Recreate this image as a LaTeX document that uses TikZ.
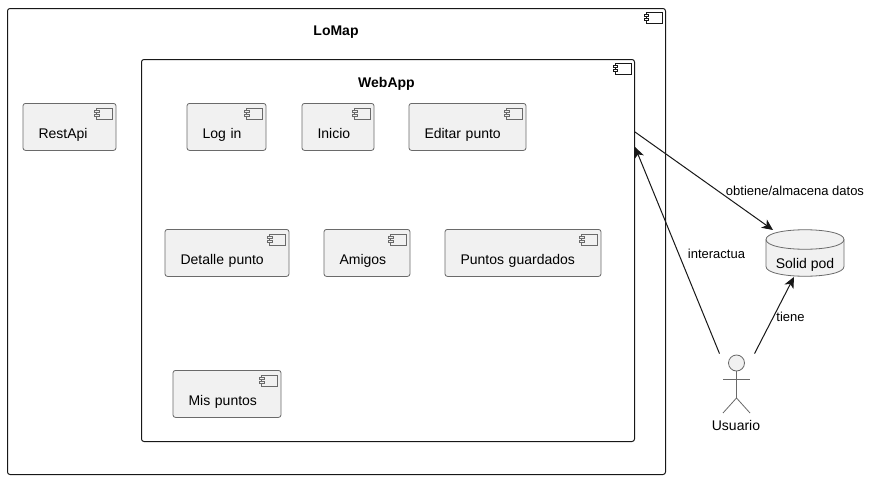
\documentclass[tikz,border=0pt]{standalone}
\usepackage{fontspec}
\setmainfont{Liberation Sans}
\usetikzlibrary{arrows.meta,calc}
\definecolor{ink}{HTML}{181818}
\definecolor{paper}{HTML}{F1F1F1}
\definecolor{softink}{HTML}{6A6A6A}
\tikzset{
  x=1pt,y=-1pt,
  outerbox/.style={draw=ink,line width=1pt,rounded corners=2.5pt,fill=white,inner sep=0pt},
  compbox/.style={draw=softink,line width=0.8pt,rounded corners=2.5pt,fill=paper,inner sep=0pt,inner xsep=15.5pt,
    text height=35pt,text depth=12pt,font=\fontsize{14}{16}\selectfont},
  title/.style={font=\fontsize{14}{16}\selectfont\bfseries,inner sep=0pt,anchor=base,text=black},
  linklabel/.style={font=\fontsize{13}{15}\selectfont,inner sep=0pt,anchor=base,text=black},
  link/.style={draw=ink,line width=1pt,-{Stealth[length=11pt,width=10pt,inset=3pt]}},
  thinline/.style={draw=softink,line width=0.8pt},
  iconline/.style={draw=ink,line width=1pt},
}
% \iconat{box}{line style}{fill}{y offset}{right offset}
\newcommand{\iconat}[5]{%
  \begin{scope}[shift={(#1.north east)}]
    \draw[#2,fill=#3] (-#5-16,#4) rectangle (-#5,#4+11);
    \draw[#2,fill=#3] (-#5-18,#4+2.5) rectangle (-#5-13.5,#4+4.5);
    \draw[#2,fill=#3] (-#5-18,#4+6.5) rectangle (-#5-13.5,#4+8.5);
  \end{scope}}
% \compnode{name}{x1}{y1}{x2}{text}
\newcommand{\compnode}[5]{%
  \pgfmathsetmacro{\textw}{#4-#2-31}%
  \pgfmathsetmacro{\boxc}{(#4+#2)/2}%
  \node[compbox,text width=\textw pt,anchor=north] (#1) at (\boxc,#3) {\mbox{#5}};
  \iconat{#1}{thinline}{paper}{5}{4}}
\begin{document}
\begin{tikzpicture}
\useasboundingbox (0,0) rectangle (871,479);
\fill[white] (0,0) rectangle (871,479);
% containers
\node[outerbox,minimum width=658pt,minimum height=466pt,anchor=north west] (lomap) at (7,8) {};
\iconat{lomap}{iconline}{white}{4}{4}
\node[title] (lomaptitle) at (336,35) {LoMap};
\node[outerbox,minimum width=493pt,minimum height=382pt,anchor=north west] (web) at (141,59) {};
\iconat{web}{iconline}{white}{4}{4}
\node[title] (webtitle) at (386.5,87) {WebApp};
% components
\compnode{rest}{23}{103}{116}{RestApi}
\compnode{login}{187}{103}{266}{Log in}
\compnode{inicio}{302}{103}{374}{Inicio}
\compnode{editar}{409}{103}{526}{Editar punto}
\compnode{detalle}{165}{229}{289}{Detalle punto}
\compnode{amigos}{324}{229}{410}{Amigos}
\compnode{guardados}{445}{229}{601}{Puntos guardados}
\compnode{mis}{173}{370}{281}{Mis puntos}
% database
\node[inner sep=0pt,minimum width=78pt,minimum height=47pt,anchor=north west] (pod) at (766,229.5) {};
\draw[thinline,fill=paper] (pod.north west) ++(0,10)
  .. controls +(0,-13) and +(0,-13) .. ++(78,0)
  -- ++(0,27)
  .. controls +(0,13) and +(0,13) .. ++(-78,0) -- cycle;
\draw[thinline] (pod.north west) ++(0,10)
  .. controls +(0,13) and +(0,13) .. ++(78,0);
\node[inner sep=0pt,anchor=base,font=\fontsize{14}{16}\selectfont] (podtext) at (805,268) {Solid pod};
% actor
\node[draw=softink,line width=0.8pt,fill=paper,circle,minimum size=16pt,inner sep=0pt] (head) at (736.5,363) {};
\coordinate (hip) at (736.5,398);
\draw[thinline] (head.south) -- (hip);
\coordinate (armL) at (723,379);
\coordinate (armR) at (750,379);
\coordinate (legL) at (723,413);
\coordinate (legR) at (750,413);
\draw[thinline] (armL) -- (armR);
\draw[thinline] (legL) -- (hip) -- (legR);
\node[inner sep=0pt,anchor=base,font=\fontsize{14}{16}\selectfont] (usuario) at (736,430) {Usuario};
% connectors
\coordinate (webOut) at ($(web.north east)+(0,73)$);
\coordinate (webIn) at ($(web.north east)+(0,88)$);
\coordinate (podTop) at ($(pod.north west)+(7,0.5)$);
\coordinate (podBottom) at ($(pod.south west)+(28,0)$);
\coordinate (actorL) at ($(head.north)+(-17,-1)$);
\coordinate (actorR) at ($(head.north)+(18,-1)$);
\draw[link] (webOut) -- (podTop);
\draw[link] (actorL) -- (webIn);
\draw[link] (actorR) -- (podBottom);
% labels
\node[linklabel] (l1) at (795,195) {obtiene/almacena datos};
\node[linklabel] (l2) at (716.5,258) {interactua};
\node[linklabel] (l3) at (790.5,321) {tiene};
\end{tikzpicture}
\end{document}
